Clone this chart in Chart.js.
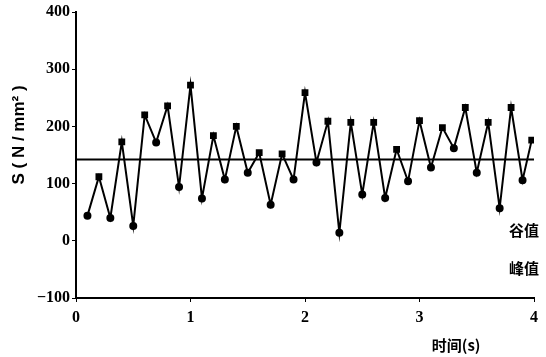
<!DOCTYPE html>
<html><head><meta charset="utf-8">
<script src="https://cdn.jsdelivr.net/npm/chart.js@4/dist/chart.umd.min.js"></script>
<style>html,body{margin:0;padding:0;background:#fff}#wrap{width:546px;height:357px}</style>
</head><body><div id="wrap"><canvas id="c" width="546" height="357"></canvas></div>
<script>
const times = [0.1,0.2,0.3,0.4,0.5,0.6,0.7,0.8,0.9,1.0,1.1,1.2,1.3,1.4,1.5,1.6,1.7,1.8,1.9,2.0,2.1,2.2,2.3,2.4,2.5,2.6,2.7,2.8,2.9,3.0,3.1,3.2,3.3,3.4,3.5,3.6,3.7,3.8,3.9,3.98];
const stress = [44,112,40,173,26,220,172,236,94,272,74,184,107,200,119,154,63,152,107,259,137,209,14,207,81,207,75,160,104,210,128,198,162,233,119,207,57,233,106,176];
const meanLevel = 142;
const meanSpan = [0,4];
const yTicks = [400,300,200,100,0,-100];
const xTicks = [0,1,2,3,4];
const yTitle = 'S ( N / mm² )';
const xTitle = '时间(s)';
const legendTexts = ['谷值','峰值'];

const pts = times.map((t,i)=>({x:t,y:stress[i]}));
const isPeak = i => {
  const v = stress[i], p = i>0?stress[i-1]:-Infinity, n = i<stress.length-1?stress[i+1]:-Infinity;
  return v>=p && v>=n;
};
const serifBold = {family:'"Liberation Serif", "DejaVu Serif", serif', size:16, weight:'bold'};
const cjk = '"Noto Sans CJK SC", sans-serif';

const textPlugin = {
  id:'texts',
  afterDraw(chart){
    const ctx = chart.ctx, xs = chart.scales.x, ys = chart.scales.y;
    ctx.save();
    ctx.fillStyle = '#000';
    ctx.translate(19, ys.getPixelForValue(185));
    ctx.rotate(-Math.PI/2);
    ctx.textAlign='center'; ctx.textBaseline='middle';
    ctx.font = 'bold 17px "Liberation Sans", "DejaVu Sans", sans-serif';
    ctx.fillText(yTitle,0,0);
    ctx.restore();
    ctx.save();
    ctx.fillStyle = '#000';
    ctx.font = 'bold 15px '+cjk;
    ctx.textAlign='center'; ctx.textBaseline='middle';
    ctx.fillText(xTitle, xs.getPixelForValue(3.32), chart.chartArea.bottom+47);
    ctx.textAlign='right';
    ctx.fillText(legendTexts[0], chart.chartArea.right+5, ys.getPixelForValue(18));
    ctx.fillText(legendTexts[1], chart.chartArea.right+5, ys.getPixelForValue(-48));
    ctx.restore();
  }
};

new Chart(document.getElementById('c'), {
  type:'scatter',
  data:{datasets:[
    {data:pts, showLine:true, borderColor:'#000', backgroundColor:'#000', borderWidth:2,
     pointRadius:(c)=> isPeak(c.dataIndex)?3.4:3, pointHoverRadius:3,
     pointStyle:(c)=> isPeak(c.dataIndex)?'rect':'circle', tension:0},
    {data:meanSpan.map(x=>({x:x,y:meanLevel})), showLine:true, borderColor:'#000', borderWidth:2, pointRadius:0}
  ]},
  options:{
    responsive:false, animation:false, events:[],
    layout:{padding:{top:12,right:12,left:0,bottom:0}},
    plugins:{legend:{display:false},tooltip:{enabled:false}},
    scales:{
      x:{type:'linear', min:0, max:4,
        afterBuildTicks:s=>{s.ticks = xTicks.map(v=>({value:v}));},
        afterFit:s=>{s.height=59;},
        border:{display:true,color:'#000',width:2},
        grid:{display:true,drawOnChartArea:false,color:'#000',tickLength:4},
        ticks:{color:'#000',font:serifBold,padding:6,maxRotation:0}},
      y:{type:'linear', min:-100, max:400,
        afterBuildTicks:s=>{s.ticks = yTicks.map(v=>({value:v}));},
        afterFit:s=>{s.width=76;},
        border:{display:true,color:'#000',width:2},
        grid:{display:true,drawOnChartArea:false,color:'#000',tickLength:4},
        ticks:{color:'#000',font:serifBold,padding:2,callback:v=>v<0?'−'+Math.abs(v):String(v)}}
    }
  },
  plugins:[textPlugin]
});
</script></body></html>
